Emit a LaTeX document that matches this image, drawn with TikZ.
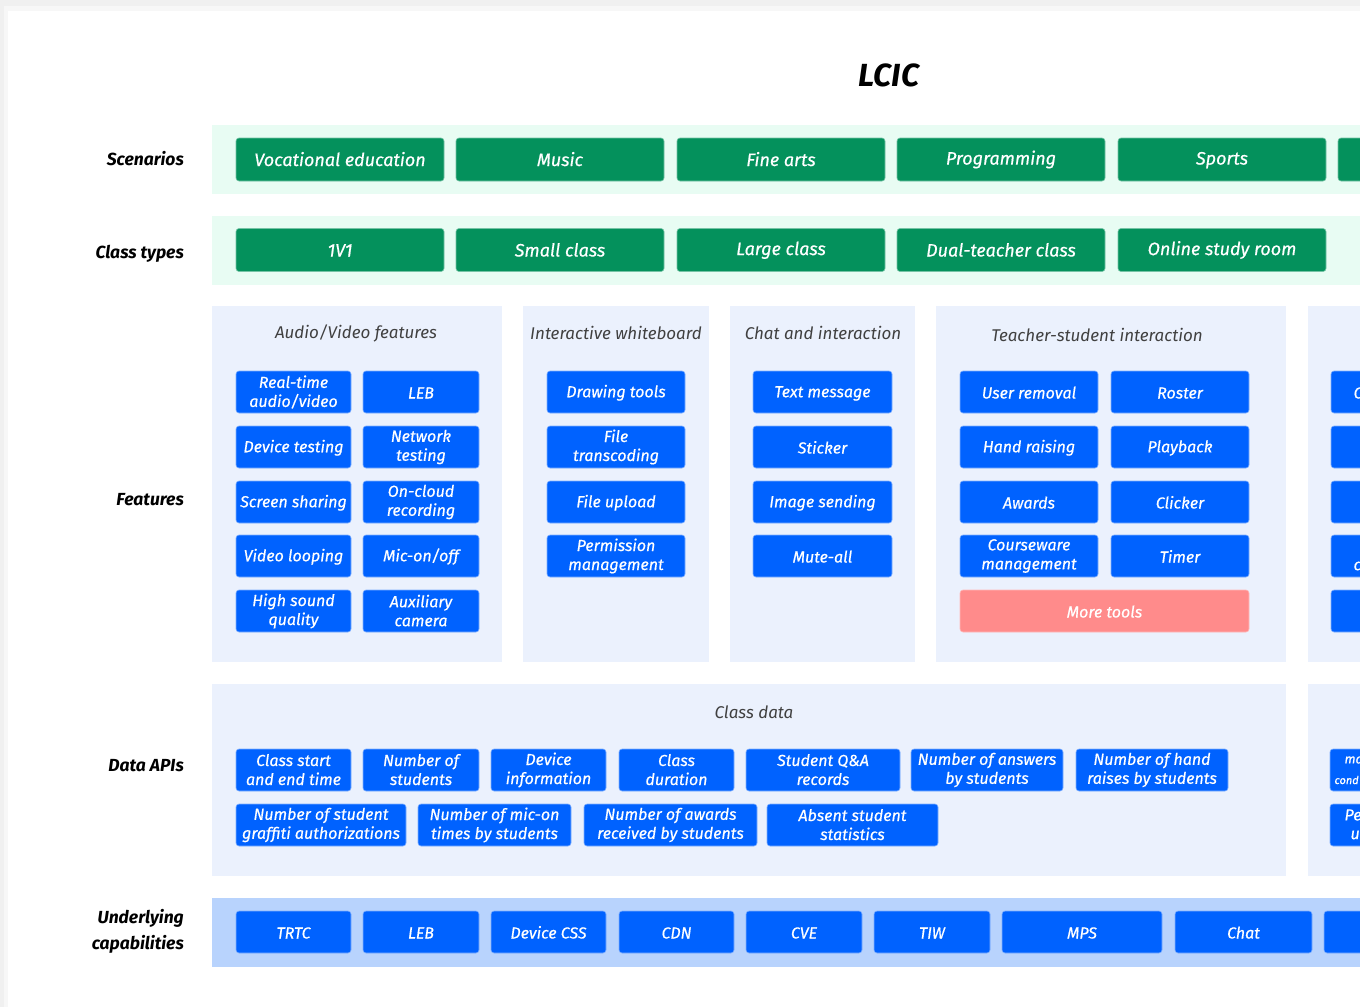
\documentclass[tikz,border=0pt]{standalone}
\usepackage{fontspec}
\setmainfont{Fira Sans}
\newfontfamily\boxfont[FakeBold=0.5]{Fira Sans}
\newcommand\boxstrut{\rule[-1pt]{0pt}{15pt}}
\usepackage{tikz}
\definecolor{scgreen}{HTML}{04915C}
\definecolor{mint}{HTML}{E8FCF3}
\definecolor{boxblue}{HTML}{0062FF}
\definecolor{panelblue}{HTML}{EBF1FD}
\definecolor{capblue}{HTML}{B8D3FD}
\definecolor{salmon}{HTML}{FF8B8B}
\tikzset{band/.style={fill=mint},
	panel/.style={fill=panelblue},
	paneltitle/.style={text=black!75, font=\fontsize{17}{20}\selectfont\itshape},
	cuttext/.style={anchor=west, text=white, font=\boxfont\fontsize{16}{19}\selectfont\itshape}
}
\tikzstyle{greenbox} = [rectangle, rounded corners=3pt, fill=scgreen, draw=scgreen!55!white, line width=.6pt, text=white, font=\boxfont\fontsize{18}{20}\selectfont\itshape, minimum width=208pt, minimum height=43pt, inner sep=0pt, execute at begin node=\boxstrut, execute at end node=\boxstrut]
\tikzstyle{bluebox} = [rectangle, rounded corners=3pt, fill=boxblue, draw=boxblue!50!white, line width=.6pt, text=white, align=center, font=\boxfont\fontsize{16}{19}\selectfont\itshape, minimum width=115pt, minimum height=42pt, inner sep=0pt, execute at begin node=\boxstrut, execute at end node=\boxstrut]
\tikzstyle{rowlabel} = [anchor=east, align=right, inner sep=0pt, font=\fontsize{17.5}{26}\selectfont\bfseries\itshape]

\begin{document}
\begin{tikzpicture}[x=1pt, y=-1pt]
				\useasboundingbox (0,0) rectangle (1360,1007);
				\clip (0,0) rectangle (1360,1007);
				\fill[black!6] (0,0) rectangle (1360,1007);
				\fill[black!3] (4,6) rectangle (1360,1007);
				\fill[white] (8,11) rectangle (1360,1007);
				
				\node[font=\fontsize{32}{36}\selectfont\bfseries\itshape] (title) at (889,75) {LCIC};
				
				% scenarios
				\fill[band] (212,125) rectangle (1360,194);
				\node[rowlabel] (scen) at (184,159) {Scenarios};
				\node[greenbox] (voc) at (340,159.5) {Vocational education};
				\node[greenbox] (music) at (560,159.5) {Music};
				\node[greenbox] (arts) at (781,159.5) {Fine arts};
				\node[greenbox] (prog) at (1001,159.5) {Programming};
				\node[greenbox] (sports) at (1222,159.5) {Sports};
				\node[greenbox] (scenmore) at (1442,159.5) {};
				
				% class types
				\fill[band] (212,216) rectangle (1360,285);
				\node[rowlabel] (ctypes) at (184,254) {Class types};
				\node[greenbox] (onev) at (340,250) {1V1};
				\node[greenbox] (small) at (560,250) {Small class};
				\node[greenbox] (large) at (781,250) {Large class};
				\node[greenbox] (dual) at (1001,250) {Dual-teacher class};
				\node[greenbox] (online) at (1222,250) {Online study room};
				
				% features
				\node[rowlabel] (feat) at (184,500) {Features};
				\fill[panel] (212,306) rectangle (502,662);
				\fill[panel] (523,306) rectangle (709,662);
				\fill[panel] (730,306) rectangle (915,662);
				\fill[panel] (936,306) rectangle (1286,662);
				\fill[panel] (1308,306) rectangle (1360,662);
				\node[paneltitle] (avtitle) at (356,333) {Audio/Video features};
				\node[paneltitle] (wbtitle) at (616,333) {Interactive whiteboard};
				\node[paneltitle] (chattitle) at (823,333) {Chat and interaction};
				\node[paneltitle] (tstitle) at (1097,335) {Teacher-student interaction};
				
				\node[bluebox] (rtav) at (293.5,392) {Real-time\\audio/video};
				\node[bluebox, minimum width=116pt] (leb) at (421,392) {LEB};
				\node[bluebox] (devtest) at (293.5,447) {Device testing};
				\node[bluebox, minimum width=116pt] (nettest) at (421,447) {Network\\testing};
				\node[bluebox] (screen) at (293.5,502) {Screen sharing};
				\node[bluebox, minimum width=116pt] (cloud) at (421,502) {On-cloud\\recording};
				\node[bluebox] (loop) at (293.5,556) {Video looping};
				\node[bluebox, minimum width=116pt] (mic) at (421,556) {Mic-on/off};
				\node[bluebox] (sound) at (293.5,611) {High sound\\quality};
				\node[bluebox, minimum width=116pt] (auxcam) at (421,611) {Auxiliary\\camera};
				
				\node[bluebox, minimum width=138pt] (draw) at (616,392) {Drawing tools};
				\node[bluebox, minimum width=138pt] (transc) at (616,447) {File\\transcoding};
				\node[bluebox, minimum width=138pt] (upload) at (616,502) {File upload};
				\node[bluebox, minimum width=138pt] (perm) at (616,556) {Permission\\management};
				
				\node[bluebox, minimum width=139pt] (textmsg) at (822.5,392) {Text message};
				\node[bluebox, minimum width=139pt] (sticker) at (822.5,447) {Sticker};
				\node[bluebox, minimum width=139pt] (image) at (822.5,502) {Image sending};
				\node[bluebox, minimum width=139pt] (muteall) at (822.5,556) {Mute-all};
				
				\node[bluebox, minimum width=138pt] (removal) at (1029,392) {User removal};
				\node[bluebox, minimum width=138pt] (roster) at (1180,392) {Roster};
				\node[bluebox, minimum width=138pt] (hand) at (1029,447) {Hand raising};
				\node[bluebox, minimum width=138pt] (playback) at (1180,447) {Playback};
				\node[bluebox, minimum width=138pt] (awards) at (1029,502) {Awards};
				\node[bluebox, minimum width=138pt] (clicker) at (1180,502) {Clicker};
				\node[bluebox, minimum width=138pt] (course) at (1029,556) {Courseware\\management};
				\node[bluebox, minimum width=138pt] (timer) at (1180,556) {Timer};
				\node[bluebox, minimum width=289pt, fill=salmon, draw=salmon!60!white] (moretools) at (1104.5,611) {More tools};
				
				\node[bluebox] (ext1) at (1388.5,392) {};
				\node[bluebox] (ext2) at (1388.5,447) {};
				\node[bluebox] (ext3) at (1388.5,502) {};
				\node[bluebox] (ext4) at (1388.5,556) {};
				\node[bluebox] (ext5) at (1388.5,611) {};
				\node[cuttext] (extc) at (1350,393) {C};
				\node[cuttext] (extd) at (1350,566) {c};
				
				% data apis
				\node[rowlabel] (dapi) at (184,766) {Data APIs};
				\fill[panel] (212,684) rectangle (1286,876);
				\fill[panel] (1308,684) rectangle (1360,876);
				\node[paneltitle] (datatitle) at (754,712) {Class data};
				
				\node[bluebox] (startend) at (293.5,770) {Class start\\and end time};
				\node[bluebox, minimum width=116pt] (nstud) at (421,770) {Number of\\students};
				\node[bluebox] (devinfo) at (548.5,770) {Device\\information};
				\node[bluebox] (duration) at (676.5,770) {Class\\duration};
				\node[bluebox, minimum width=154pt] (qa) at (823,770) {Student Q\&A\\records};
				\node[bluebox, minimum width=152pt] (answers) at (987,770) {Number of answers\\by students};
				\node[bluebox, minimum width=152pt] (raises) at (1152,770) {Number of hand\\raises by students};
				\node[bluebox, minimum width=170pt] (graffiti) at (321,825) {Number of student\\graffiti authorizations};
				\node[bluebox, minimum width=153pt] (micon) at (494.5,825) {Number of mic-on\\times by students};
				\node[bluebox, minimum width=173pt] (nawards) at (670.5,825) {Number of awards\\received by students};
				\node[bluebox, minimum width=171pt] (absent) at (852.5,825) {Absent student\\statistics};
				
				\node[bluebox] (extd1) at (1387.5,770) {};
				\node[bluebox] (extd2) at (1387.5,825) {};
				\node[cuttext, font=\boxfont\fontsize{13}{19}\selectfont\itshape] (extma) at (1341,760) {ma};
				\node[cuttext, font=\boxfont\fontsize{11}{19}\selectfont\itshape] (extcond) at (1331,780) {cond};
				\node[cuttext] (extpe) at (1341,815) {Pe};
				\node[cuttext] (extu) at (1347,835) {u};
				
				% underlying capabilities
				\node[rowlabel] (under) at (184,931) {Underlying\\capabilities};
				\fill[capblue] (212,898) rectangle (1360,967);
				\node[bluebox] (trtc) at (293.5,932) {TRTC};
				\node[bluebox, minimum width=116pt] (leb2) at (421,932) {LEB};
				\node[bluebox] (css) at (548.5,932) {Device CSS};
				\node[bluebox] (cdn) at (676.5,932) {CDN};
				\node[bluebox, minimum width=116pt] (cve) at (804,932) {CVE};
				\node[bluebox, minimum width=116pt] (tiw) at (932,932) {TIW};
				\node[bluebox, minimum width=160pt] (mps) at (1082,932) {MPS};
				\node[bluebox, minimum width=137pt] (chat) at (1243.5,932) {Chat};
				\node[bluebox] (capmore) at (1381.5,932) {};
			\end{tikzpicture}
\end{document}
